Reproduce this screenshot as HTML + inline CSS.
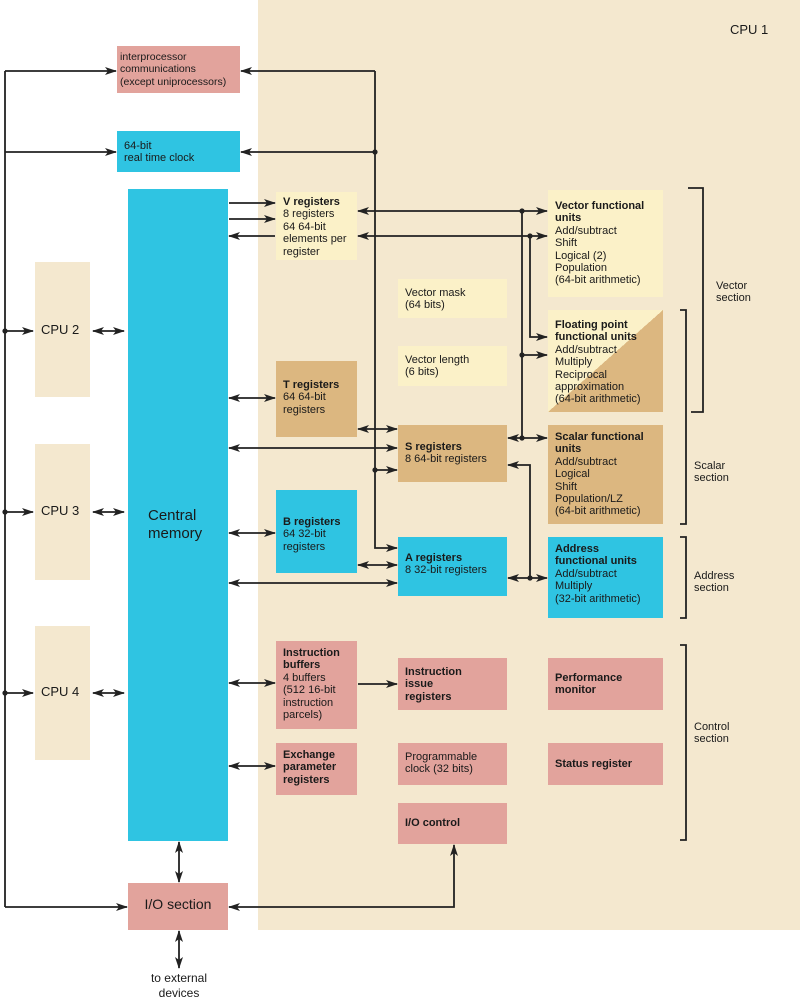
<!DOCTYPE html>
<html><head><meta charset="utf-8"><style>
html,body{margin:0;padding:0;}
body{width:800px;height:1006px;position:relative;background:#fff;overflow:hidden;font-family:"Liberation Sans",Arial,sans-serif;color:#1a1a1a;}
.bg{position:absolute;left:258px;top:0;width:542px;height:930px;background:#f4e8cf;}
.b{position:absolute;box-sizing:border-box;font-size:11px;line-height:12.4px;padding:6px 7px;white-space:nowrap;}
.pk{background:#e2a39c;}
.cy{background:#2fc4e2;}
.ly{background:#fbf1c8;}
.tn{background:#dcb780;}
.cpu{background:#f4e8cf;position:absolute;left:35px;width:55px;}
.t{position:absolute;font-size:11px;line-height:12.4px;}
b{font-weight:bold;}
svg{position:absolute;left:0;top:0;}
</style></head><body>
<div class="bg"></div>
<div class="cpu" style="top:262px;height:135px"></div>
<div class="cpu" style="top:444px;height:136px"></div>
<div class="cpu" style="top:626px;height:134px"></div>

<div class="b pk" style="left:117px;top:46px;width:123px;height:47px;padding:5px 3px;font-size:10.5px">interprocessor<br>communications<br>(except uniprocessors)</div>
<div class="b cy" style="left:117px;top:131px;width:123px;height:41px;padding-top:9px">64-bit<br>real time clock</div>
<div class="b cy" style="left:128px;top:189px;width:100px;height:652px;font-size:15px;line-height:18px;padding:318px 0 0 20px">Central<br>memory</div>

<div class="b ly" style="left:276px;top:192px;width:81px;height:68px;padding-top:4px"><b>V registers</b><br>8 registers<br>64 64-bit<br>elements per<br>register</div>
<div class="b ly" style="left:548px;top:190px;width:115px;height:107px;padding-top:10px"><b>Vector functional<br>units</b><br>Add/subtract<br>Shift<br>Logical (2)<br>Population<br>(64-bit arithmetic)</div>
<div class="b ly" style="left:398px;top:279px;width:109px;height:39px;padding-top:8px">Vector mask<br>(64 bits)</div>
<div class="b ly" style="left:398px;top:346px;width:109px;height:40px;padding-top:8px">Vector length<br>(6 bits)</div>
<div class="b" style="left:548px;top:310px;width:115px;height:102px;background:linear-gradient(to bottom right,#fbf1c8 50%,#dcb780 50%);padding-top:9px"><b>Floating point<br>functional units</b><br>Add/subtract<br>Multiply<br>Reciprocal<br>approximation<br>(64-bit arithmetic)</div>
<div class="b tn" style="left:276px;top:361px;width:81px;height:76px;padding-top:18px"><b>T registers</b><br>64 64-bit<br>registers</div>
<div class="b tn" style="left:398px;top:425px;width:109px;height:57px;padding-top:16px"><b>S registers</b><br>8 64-bit registers</div>
<div class="b tn" style="left:548px;top:425px;width:115px;height:99px;padding-top:6px"><b>Scalar functional<br>units</b><br>Add/subtract<br>Logical<br>Shift<br>Population/LZ<br>(64-bit arithmetic)</div>
<div class="b cy" style="left:276px;top:490px;width:81px;height:83px;padding-top:26px"><b>B registers</b><br>64 32-bit<br>registers</div>
<div class="b cy" style="left:398px;top:537px;width:109px;height:59px;padding-top:15px"><b>A registers</b><br>8 32-bit registers</div>
<div class="b cy" style="left:548px;top:537px;width:115px;height:81px;padding-top:6px"><b>Address<br>functional units</b><br>Add/subtract<br>Multiply<br>(32-bit arithmetic)</div>

<div class="b pk" style="left:276px;top:641px;width:81px;height:88px;padding-top:6px"><b>Instruction<br>buffers</b><br>4 buffers<br>(512 16-bit<br>instruction<br>parcels)</div>
<div class="b pk" style="left:398px;top:658px;width:109px;height:52px;padding-top:8px"><b>Instruction<br>issue<br>registers</b></div>
<div class="b pk" style="left:276px;top:743px;width:81px;height:52px;padding-top:6px"><b>Exchange<br>parameter<br>registers</b></div>
<div class="b pk" style="left:398px;top:743px;width:109px;height:42px;padding-top:8px">Programmable<br>clock (32 bits)</div>
<div class="b pk" style="left:398px;top:803px;width:109px;height:41px;padding-top:14px"><b>I/O control</b></div>
<div class="b pk" style="left:548px;top:658px;width:115px;height:52px;padding-top:14px"><b>Performance<br>monitor</b></div>
<div class="b pk" style="left:548px;top:743px;width:115px;height:42px;padding-top:15px"><b>Status register</b></div>
<div class="b pk" style="left:128px;top:883px;width:100px;height:47px;font-size:14px;padding:15px 0 0 0;text-align:center">I/O section</div>

<div class="t" style="left:730px;top:24px;font-size:13px">CPU 1</div>
<div class="t" style="left:41px;top:324px;font-size:13px">CPU 2</div>
<div class="t" style="left:41px;top:505px;font-size:13px">CPU 3</div>
<div class="t" style="left:41px;top:686px;font-size:13px">CPU 4</div>
<div class="t" style="left:716px;top:280px">Vector<br>section</div>
<div class="t" style="left:694px;top:460px">Scalar<br>section</div>
<div class="t" style="left:694px;top:570px">Address<br>section</div>
<div class="t" style="left:694px;top:721px">Control<br>section</div>
<div class="t" style="left:140px;top:971px;font-size:12px;line-height:15px;text-align:center;width:78px">to external<br>devices</div>

<svg width="800" height="1006" viewBox="0 0 800 1006">
<defs>
<marker id="a" markerWidth="12" markerHeight="8" refX="11" refY="4" orient="auto-start-reverse" markerUnits="userSpaceOnUse">
<path d="M0,0 L12,4 L0,8 L3,4 Z" fill="#222"/></marker>
</defs>
<g stroke="#222" stroke-width="1.8" fill="none">
<path d="M5,71 V907"/>
<path d="M5,71 H116" marker-end="url(#a)"/>
<path d="M5,152 H116" marker-end="url(#a)"/>
<path d="M5,331 H33" marker-end="url(#a)"/>
<path d="M5,512 H33" marker-end="url(#a)"/>
<path d="M5,693 H33" marker-end="url(#a)"/>
<path d="M5,907 H127" marker-end="url(#a)"/>
<path d="M93,331 H124" marker-start="url(#a)" marker-end="url(#a)"/>
<path d="M93,512 H124" marker-start="url(#a)" marker-end="url(#a)"/>
<path d="M93,693 H124" marker-start="url(#a)" marker-end="url(#a)"/>
<path d="M375,71 V548 H397" marker-end="url(#a)"/>
<path d="M375,71 H241" marker-end="url(#a)"/>
<path d="M375,152 H241" marker-end="url(#a)"/>
<path d="M375,470 H397" marker-end="url(#a)"/>
<path d="M229,203 H275" marker-end="url(#a)"/>
<path d="M229,219 H275" marker-end="url(#a)"/>
<path d="M275,236 H229" marker-end="url(#a)"/>
<path d="M358,211 H547" marker-start="url(#a)" marker-end="url(#a)"/>
<path d="M358,236 H547" marker-start="url(#a)" marker-end="url(#a)"/>
<path d="M522,211 V438"/>
<path d="M530,236 V337 H547" marker-end="url(#a)"/>
<path d="M522,355 H547" marker-end="url(#a)"/>
<path d="M508,438 H547" marker-start="url(#a)" marker-end="url(#a)"/>
<path d="M229,398 H275" marker-start="url(#a)" marker-end="url(#a)"/>
<path d="M358,429 H397" marker-start="url(#a)" marker-end="url(#a)"/>
<path d="M229,448 H397" marker-start="url(#a)" marker-end="url(#a)"/>
<path d="M530,578 V465 H508" marker-end="url(#a)"/>
<path d="M229,533 H275" marker-start="url(#a)" marker-end="url(#a)"/>
<path d="M358,565 H397" marker-start="url(#a)" marker-end="url(#a)"/>
<path d="M229,583 H397" marker-start="url(#a)" marker-end="url(#a)"/>
<path d="M508,578 H547" marker-start="url(#a)" marker-end="url(#a)"/>
<path d="M229,683 H275" marker-start="url(#a)" marker-end="url(#a)"/>
<path d="M358,684 H397" marker-end="url(#a)"/>
<path d="M229,766 H275" marker-start="url(#a)" marker-end="url(#a)"/>
<path d="M179,842 V882" marker-start="url(#a)" marker-end="url(#a)"/>
<path d="M179,931 V968" marker-start="url(#a)" marker-end="url(#a)"/>
<path d="M454,845 V907 H229" marker-start="url(#a)" marker-end="url(#a)"/>
<path d="M688,188 H703 V412 H691"/>
<path d="M680,310 H686 V524 H680"/>
<path d="M680,537 H686 V618 H680"/>
<path d="M680,645 H686 V840 H680"/>
</g>
<g fill="#222">
<circle cx="5" cy="331" r="2.6"/><circle cx="5" cy="512" r="2.6"/><circle cx="5" cy="693" r="2.6"/>
<circle cx="375" cy="152" r="2.6"/><circle cx="375" cy="470" r="2.6"/>
<circle cx="522" cy="211" r="2.6"/><circle cx="530" cy="236" r="2.6"/>
<circle cx="522" cy="355" r="2.6"/><circle cx="522" cy="438" r="2.6"/><circle cx="530" cy="578" r="2.6"/>
</g>
</svg>
</body></html>
